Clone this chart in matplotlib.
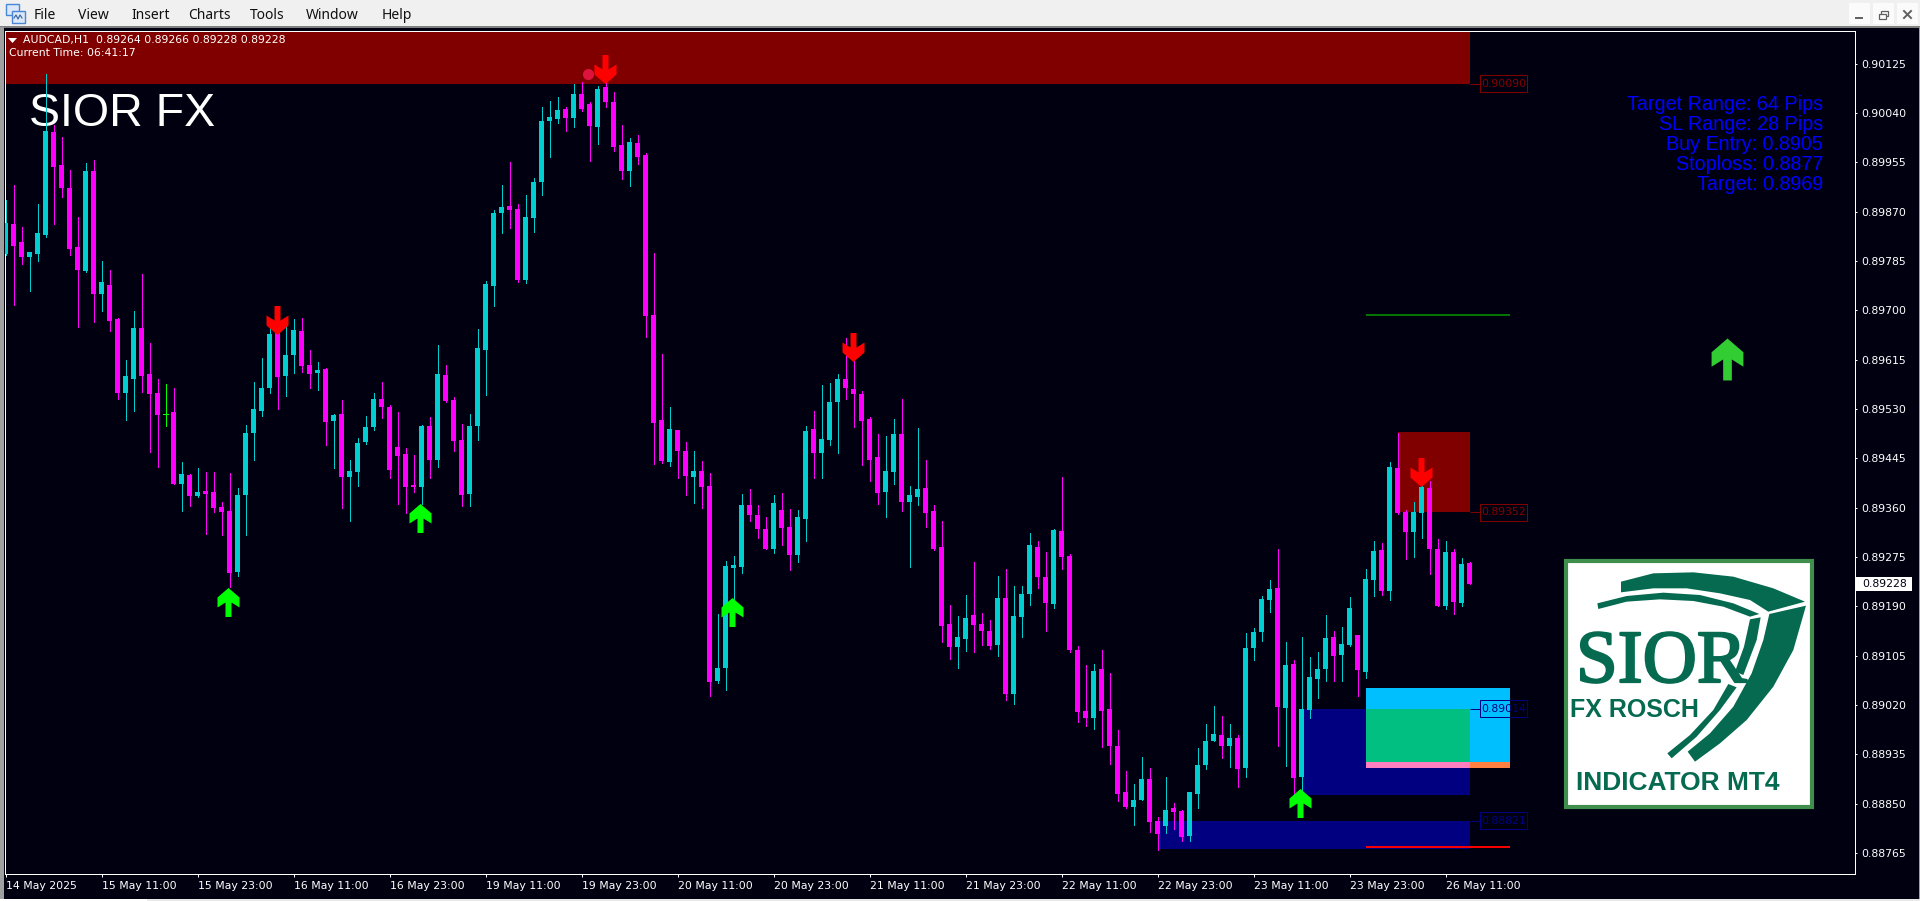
import numpy as np
import matplotlib
matplotlib.use('Agg')
import matplotlib.pyplot as plt
import matplotlib.patheffects as pe
from matplotlib.patches import Rectangle, Polygon
from matplotlib.path import Path

# AUDCAD H1 candles, values in points (1 point = 0.00001)
opens = [
    89797, 89849, 89818, 89792, 89797, 89830, 90007, 89950, 89910, 89809,
    89768, 89940, 89728, 89744, 89685, 89557, 89581, 89670, 89590, 89557,
    89521, 89524, 89400, 89416, 89380, 89388, 89387, 89361, 89354, 89249,
    89382, 89488, 89526, 89567, 89661, 89586, 89623, 89664, 89606, 89592,
    89599, 89509, 89521, 89413, 89421, 89473, 89499, 89548, 89533, 89464,
    89452, 89399, 89395, 89500, 89442, 89588, 89545, 89476, 89384, 89500,
    89632, 89742, 89868, 89880, 89874, 89752, 89859, 89921, 90026, 90029,
    90047, 90031, 90072, 90055, 90015, 90084, 90058, 89984, 89940, 89988,
    89967, 89692, 89511, 89439, 89493, 89458, 89413, 89423, 89397, 89062,
    89084, 89256, 89258, 89365, 89347, 89323, 89289, 89356, 89327, 89278,
    89340, 89495, 89454, 89476, 89542, 89581, 89564, 89555, 89513, 89447,
    89387, 89421, 89487, 89369, 89378, 89394, 89354, 89292, 89160, 89120,
    89134, 89175, 89160, 89148, 89124, 89204, 89039, 89172, 89211, 89292,
    89240, 89194, 89320, 89277, 89115, 89010, 88998, 89082, 89014, 88950,
    88871, 88845, 88857, 88893, 88821, 88811, 88842, 88838, 88795, 88867,
    88917, 88958, 88969, 88950, 88963, 88912, 89118, 89146, 89201, 89221,
    89015, 89091, 88896, 89012, 89065, 89082, 89137, 89106, 89124, 89141,
    89077, 89235, 89287, 89217, 89428, 89352, 89318, 89351, 89394, 89289,
    89191, 89284, 89196, 89264,
]
closes = [
    89850, 89811, 89792, 89800, 89833, 90009, 89947, 89910, 89805, 89769,
    89940, 89728, 89749, 89682, 89557, 89586, 89670, 89586, 89555, 89519,
    89521, 89400, 89418, 89380, 89387, 89383, 89359, 89352, 89247, 89382,
    89488, 89530, 89567, 89659, 89585, 89623, 89666, 89604, 89590, 89597,
    89507, 89519, 89413, 89423, 89471, 89499, 89547, 89533, 89425, 89449,
    89395, 89395, 89500, 89442, 89590, 89544, 89475, 89382, 89500, 89635,
    89745, 89868, 89878, 89873, 89752, 89861, 89921, 90026, 90033, 90045,
    90031, 90072, 90047, 90017, 90081, 90058, 89981, 89940, 89990, 89964,
    89690, 89506, 89440, 89495, 89458, 89415, 89423, 89395, 89060, 89084,
    89260, 89261, 89365, 89347, 89323, 89289, 89368, 89325, 89278, 89344,
    89492, 89454, 89478, 89542, 89581, 89566, 89555, 89509, 89443, 89385,
    89423, 89487, 89369, 89382, 89392, 89351, 89289, 89156, 89120, 89137,
    89170, 89158, 89148, 89122, 89204, 89039, 89173, 89211, 89296, 89240,
    89196, 89321, 89275, 89115, 89008, 88998, 89079, 89010, 88950, 88867,
    88845, 88857, 88893, 88819, 88798, 88840, 88835, 88793, 88871, 88917,
    88958, 88970, 88950, 88963, 88910, 89118, 89146, 89203, 89220, 89017,
    89089, 88895, 89014, 89068, 89082, 89135, 89105, 89125, 89187, 89080,
    89237, 89285, 89217, 89430, 89351, 89318, 89352, 89395, 89289, 89191,
    89284, 89198, 89263, 89228,
]
highs = [
    89890, 89916, 89844, 89800, 89883, 90107, 90019, 89998, 89941, 89861,
    89954, 89959, 89785, 89769, 89687, 89614, 89699, 89763, 89644, 89581,
    89573, 89567, 89439, 89418, 89428, 89421, 89421, 89369, 89420, 89394,
    89502, 89576, 89618, 89671, 89666, 89673, 89685, 89687, 89632, 89611,
    89601, 89521, 89545, 89443, 89480, 89518, 89557, 89576, 89537, 89524,
    89463, 89451, 89502, 89516, 89640, 89606, 89550, 89504, 89521, 89668,
    89750, 89873, 89916, 89955, 89883, 89898, 89928, 90050, 90060, 90067,
    90050, 90089, 90093, 90058, 90086, 90093, 90076, 90019, 89996, 90002,
    89971, 89798, 89625, 89533, 89493, 89473, 89458, 89440, 89420, 89177,
    89268, 89277, 89384, 89392, 89365, 89344, 89382, 89385, 89357, 89356,
    89500, 89526, 89571, 89575, 89590, 89653, 89640, 89561, 89516, 89487,
    89483, 89513, 89547, 89397, 89497, 89443, 89365, 89337, 89192, 89173,
    89210, 89266, 89179, 89167, 89242, 89254, 89225, 89225, 89316, 89303,
    89284, 89323, 89413, 89280, 89122, 89089, 89091, 89115, 89075, 88977,
    88907, 88884, 88931, 88912, 88828, 88896, 88852, 88840, 88871, 88946,
    88987, 89019, 89001, 88987, 88969, 89144, 89153, 89208, 89235, 89289,
    89129, 89098, 89137, 89103, 89111, 89175, 89148, 89155, 89206, 89141,
    89254, 89303, 89299, 89439, 89488, 89356, 89369, 89399, 89406, 89306,
    89303, 89289, 89273, 89266,
]
lows = [
    89795, 89709, 89780, 89733, 89785, 89826, 89849, 89895, 89795, 89671,
    89766, 89680, 89699, 89664, 89548, 89511, 89526, 89559, 89456, 89430,
    89500, 89400, 89354, 89363, 89378, 89314, 89352, 89313, 89223, 89242,
    89313, 89442, 89518, 89557, 89530, 89552, 89592, 89594, 89566, 89563,
    89468, 89428, 89359, 89337, 89397, 89470, 89493, 89514, 89411, 89366,
    89351, 89387, 89366, 89411, 89430, 89542, 89458, 89363, 89363, 89476,
    89554, 89707, 89833, 89842, 89749, 89747, 89835, 89898, 89964, 90022,
    90009, 90015, 90043, 89957, 89986, 90050, 89974, 89926, 89914, 89952,
    89654, 89435, 89437, 89432, 89411, 89382, 89368, 89359, 89036, 89058,
    89046, 89201, 89247, 89337, 89308, 89289, 89282, 89296, 89253, 89266,
    89303, 89411, 89411, 89468, 89454, 89547, 89499, 89433, 89406, 89366,
    89344, 89400, 89354, 89258, 89365, 89327, 89287, 89129, 89099, 89084,
    89113, 89111, 89124, 89117, 89105, 89029, 89022, 89137, 89192, 89221,
    89148, 89187, 89254, 89111, 88991, 88984, 88979, 88948, 88919, 88855,
    88842, 88814, 88857, 88802, 88771, 88800, 88806, 88786, 88786, 88843,
    88910, 88958, 88929, 88914, 88879, 88896, 89098, 89130, 89180, 88950,
    88915, 88864, 88874, 88998, 89032, 89062, 89062, 89062, 89122, 89036,
    89067, 89208, 89210, 89201, 89349, 89272, 89275, 89308, 89245, 89191,
    89186, 89177, 89191, 89228,
]

date_tick_bars = list(range(0, 181, 12))
date_labels = ['14 May 2025', '15 May 11:00', '15 May 23:00', '16 May 11:00',
               '16 May 23:00', '19 May 11:00', '19 May 23:00', '20 May 11:00',
               '20 May 23:00', '21 May 11:00', '21 May 23:00', '22 May 11:00',
               '22 May 23:00', '23 May 11:00', '23 May 23:00', '26 May 11:00']
price_ticks = [90125, 90040, 89955, 89870, 89785, 89700, 89615, 89530, 89445,
               89360, 89275, 89190, 89105, 89020, 88935, 88850, 88765]

# indicator arrows: bar position and price
sell_arrow_bars = [33.94, 74.94, 105.94, 176.94]
sell_arrow_prices = [89683, 90116, 89636, 89421]
buy_arrow_bars = [27.78, 51.78, 90.78, 161.78]
buy_arrow_prices = [89198, 89343, 89180, 88851]
signal_arrow_bar = 215.2
signal_arrow_price = 89616
dot_bar, dot_price = 72.8, 90107

# zones: start bar, end bar, top price, bottom price
red_zones = [(-1, 183, 90300, 90090), (174, 183, 89490, 89352)]
navy_zones = [(162, 183, 89014, 88865), (144, 183, 88821, 88772)]
zone_labels = [(90090, '0.90090', '#800000'), (89352, '0.89352', '#800000'),
               (89014, '0.89014', '#000080'), (88821, '0.88821', '#000080')]

trade_start, trade_mid, trade_end = 170, 183, 188
buy_entry = 89049
entry_band_top, entry_band_bottom = 88922, 88912
take_profit = 89692
stop_loss = 88775
current_price = 89228

info_lines = ['Target Range: 64 Pips', 'SL Range: 28 Pips', 'Buy Entry: 0.8905',
              'Stoploss: 0.8877', 'Target: 0.8969']
menu_items = ['File', 'View', 'Insert', 'Charts', 'Tools', 'Window', 'Help']
menu_x = [34, 78, 131, 188, 250, 306, 382]

BG = '#000010'
UP = '#00CED1'
DOWN = '#FF00FF'
GREEN_TXT = '#056A50'

W, H = 1920, 901
fig = plt.figure(figsize=(W / 100, H / 100), dpi=100, facecolor=BG)

# pixel layer for the terminal window parts
px_ax = fig.add_axes([0, 0, 1, 1], zorder=5, facecolor='none')
px_ax.set_xlim(0, W)
px_ax.set_ylim(H, 0)
px_ax.axis('off')
px = px_ax.transData

# chart axes
left, right, top, bottom = 4.5, 1854.5, 30.5, 874
ax = fig.add_axes([left / W, 1 - bottom / H, (right - left) / W, (bottom - top) / H],
                  zorder=2, facecolor=BG)
ax.set_xlim((left - 5.5) / 8, (right - 5.5) / 8)
ax.set_ylim(0.88729, 0.90182)

bars = np.arange(len(opens))
o = np.array(opens) / 1e5
c = np.array(closes) / 1e5
h = np.array(highs) / 1e5
l = np.array(lows) / 1e5
colors = [UP if b > a else DOWN if b < a else '#00FF00' for a, b in zip(opens, closes)]

# zones sit behind the candles
for x0, x1, p0, p1 in red_zones:
    ax.add_patch(Rectangle((x0, p1 / 1e5), x1 - x0, (p0 - p1) / 1e5, color='#800000', lw=0, aa=False, zorder=1))
for x0, x1, p0, p1 in navy_zones:
    ax.add_patch(Rectangle((x0, p1 / 1e5), x1 - x0, (p0 - p1) / 1e5, color='#000080', lw=0, aa=False, zorder=1))

# trade box, drawn with the blended colours the terminal gives
ax.add_patch(Rectangle((trade_start, entry_band_top / 1e5), trade_end - trade_start,
                       (buy_entry - entry_band_top) / 1e5, color='#00BFFF', lw=0, aa=False, zorder=1.2))
ax.add_patch(Rectangle((trade_start, entry_band_top / 1e5), trade_mid - trade_start,
                       (navy_zones[0][2] - entry_band_top) / 1e5, color='#00BF80', lw=0, aa=False, zorder=1.3))
ax.add_patch(Rectangle((trade_start, entry_band_bottom / 1e5), trade_mid - trade_start,
                       (entry_band_top - entry_band_bottom) / 1e5, color='#FF80C0', lw=0, aa=False, zorder=1.3))
ax.add_patch(Rectangle((trade_mid, entry_band_bottom / 1e5), trade_end - trade_mid,
                       (entry_band_top - entry_band_bottom) / 1e5, color='#FF8040', lw=0, aa=False, zorder=1.3))
ax.hlines(take_profit / 1e5, trade_start, trade_end, colors='#008000', linewidth=1.3, zorder=2)
ax.hlines(stop_loss / 1e5, trade_start, trade_end, colors='#FF0000', linewidth=1.4, zorder=5)

ax.text(29, 126, 'SIOR FX', transform=px, color='white', fontsize=33.5,
        family='Liberation Sans', va='baseline', zorder=1.5)

# candles
ax.vlines(bars, l, h, colors=colors, linewidth=0.72, antialiased=False, zorder=3)
ax.bar(bars, np.abs(c - o), bottom=np.minimum(o, c), width=5 / 8, color=colors,
       linewidth=0, antialiased=False, zorder=4)
doji = bars[o == c]
ax.hlines(o[doji], doji - 2.5 / 8, doji + 2.5 / 8, colors='#00FF00', linewidth=0.72, antialiased=False, zorder=4)

# arrows
arrow_up = [(3, -14.5), (-3, -14.5), (-3, 0), (-11, -5), (-11, 5), (0, 14.5), (11, 5), (11, -5), (3, 0), (3, -14.5)]
arrow_up = np.array(arrow_up) / 14.5
up_path = Path(arrow_up, closed=True)
down_path = Path(arrow_up * [1, -1], closed=True)
ax.plot(sell_arrow_bars, np.array(sell_arrow_prices) / 1e5, ls='', marker=down_path,
        markersize=20.9, mfc='#FF0000', mew=0, zorder=6)
ax.plot(buy_arrow_bars, np.array(buy_arrow_prices) / 1e5, ls='', marker=up_path,
        markersize=20.9, mfc='#00FF00', mew=0, zorder=6)
ax.plot([signal_arrow_bar], [signal_arrow_price / 1e5], ls='', marker=up_path,
        markersize=30.2, mfc='#32CD32', mew=0, zorder=6)
ax.plot([dot_bar], [dot_price / 1e5], ls='', marker='o', markersize=8, mfc='#DC143C', mew=0, zorder=2)

# price labels next to the zones
label_x = 184.25
for price, label, col in zone_labels:
    ax.hlines(price / 1e5, 183.1, label_x, colors=col, linewidth=0.72, zorder=6)
    ax.add_patch(Rectangle((label_x, (price - 14.6) / 1e5), 5.95, 29.2 / 1e5, fill=False,
                           ec=col, lw=0.72, zorder=6))
    ax.text(label_x + 2.98, price / 1e5, label, color=col, fontsize=7.85, family='DejaVu Sans',
            ha='center', va='center', zorder=6)

# info block
for n, line in enumerate(info_lines):
    ax.text(1823, 104.5 + 20 * n, line, transform=px, color='#0000FF', fontsize=14.2,
            family='Liberation Sans', ha='right', va='center', zorder=6)

# axes styling
for s in ['top', 'bottom', 'left', 'right']:
    ax.spines[s].set_color('white')
    ax.spines[s].set_linewidth(0.72)
ax.set_xticks(date_tick_bars, date_labels, ha='left', color='white', fontsize=7.85, family='DejaVu Sans')
ax.yaxis.tick_right()
ax.set_yticks(np.array(price_ticks) / 1e5, [f'{p / 1e5:.5f}' for p in price_ticks],
              color='white', fontsize=7.85, family='DejaVu Sans')
ax.tick_params(axis='x', length=2.2, width=0.72, color='white', pad=2.5)
ax.tick_params(axis='y', length=1.6, width=0.72, color='white', pad=3.5)

# current price flag
y_tr = ax.get_yaxis_transform()
ax.add_patch(Rectangle((1.0009, (current_price - 12) / 1e5), 0.0303, 24 / 1e5, transform=y_tr,
                       color='white', lw=0, clip_on=False, zorder=8))
ax.text(1.0040, current_price / 1e5, f'{current_price / 1e5:.5f}', transform=y_tr, color=BG,
        fontsize=7.85, family='DejaVu Sans', va='center', zorder=9, clip_on=False)

# menu bar
px_ax.add_patch(Rectangle((0, 0), W, 26, color='#F0F0F0', lw=0))
px_ax.add_patch(Rectangle((0, 26), W, 2, color='#808080', lw=0))
px_ax.add_patch(Rectangle((0, 27), 3.5, 872, color='#A0A0A0', lw=0))
px_ax.add_patch(Rectangle((0, 899), W, 2, color='#E8E8E8', lw=0))
px_ax.add_patch(Rectangle((0, 899), 147, 2, color='white', lw=0))
px_ax.add_patch(Rectangle((1919, 27), 1, 872, color='#A0A0A0', lw=0))
for item, x in zip(menu_items, menu_x):
    px_ax.text(x, 15.5, item, color='#101010', fontsize=10, family='Noto Sans', va='center')
px_ax.add_patch(Rectangle((5.5, 3.5), 13, 11, fc='#DCE8F8', ec='#4A86D8', lw=1))
px_ax.add_patch(Rectangle((11.5, 10.5), 13, 12, fc='#DCE8F8', ec='#4A86D8', lw=1))
px_ax.plot([14, 16, 18, 20, 22], [18, 15, 19, 15, 18], color='#3060A0', lw=0.8)

# title lines
px_ax.add_patch(Polygon([(8, 38), (17, 38), (12.5, 43)], closed=True, color='white', lw=0))
px_ax.text(23, 40.5, 'AUDCAD,H1  0.89264 0.89266 0.89228 0.89228', color='white', fontsize=7.85,
           family='DejaVu Sans', va='center')
px_ax.text(9, 53.5, 'Current Time: 06:41:17', color='white', fontsize=7.85, family='DejaVu Sans', va='center')

# window buttons
for x0 in [1849, 1873, 1897]:
    px_ax.add_patch(Rectangle((x0, 3), 21, 21, color='#FBFBFB', lw=0))
px_ax.plot([1856, 1862], [17.5, 17.5], color='#606060', lw=1.4)
px_ax.add_patch(Rectangle((1881, 11), 7, 5, fill=False, ec='#606060', lw=0.9))
px_ax.add_patch(Rectangle((1878.5, 13.5), 7, 5, fc='#FBFBFB', ec='#606060', lw=0.9))
px_ax.plot([1904, 1911], [11, 18], color='#606060', lw=1.4)
px_ax.plot([1904, 1911], [18, 11], color='#606060', lw=1.4)

# logo, outlines taken from a 3x crop
def logo_pts(pts):
    return [(1520 + a / 3, 540 + b / 3) for a, b in pts]

px_ax.add_patch(Rectangle((1566, 561), 246, 246, fc='white', ec='#3F8E4C', lw=3))
shapes = [
    [(303, 125), (400, 100), (520, 97), (640, 110), (760, 145), (855, 185), (745, 215),
     (690, 180), (600, 160), (500, 145), (400, 145), (303, 157)],
    [(232, 190), (320, 168), (430, 158), (540, 165), (640, 190), (718, 222), (690, 230),
     (610, 200), (520, 183), (420, 178), (320, 185), (235, 207)],
    [(858, 197), (820, 330), (760, 440), (680, 540), (600, 610), (525, 665), (503, 635),
     (570, 580), (640, 500), (695, 400), (730, 300), (748, 222)],
    [(690, 238), (722, 232), (710, 300), (670, 405), (645, 395), (672, 320)],
    [(625, 432), (650, 442), (600, 510), (530, 590), (455, 655), (442, 640), (510, 585), (580, 510)],
]
for s in shapes:
    px_ax.add_patch(Polygon(logo_pts(s), closed=True, color=GREEN_TXT, lw=0))
px_ax.text(1576, 682, 'SIOR', color=GREEN_TXT, fontsize=54, family='Liberation Serif',
           va='baseline', ha='left', path_effects=[pe.withStroke(linewidth=1.6, foreground=GREEN_TXT)])
px_ax.text(1570, 717, 'FX ROSCH', color=GREEN_TXT, fontsize=18, family='Liberation Sans',
           weight='bold', va='baseline', ha='left')
px_ax.text(1576, 790, 'INDICATOR MT4', color=GREEN_TXT, fontsize=19, family='Liberation Sans',
           weight='bold', va='baseline', ha='left')

fig.savefig('out.png', dpi=100, facecolor=BG)
